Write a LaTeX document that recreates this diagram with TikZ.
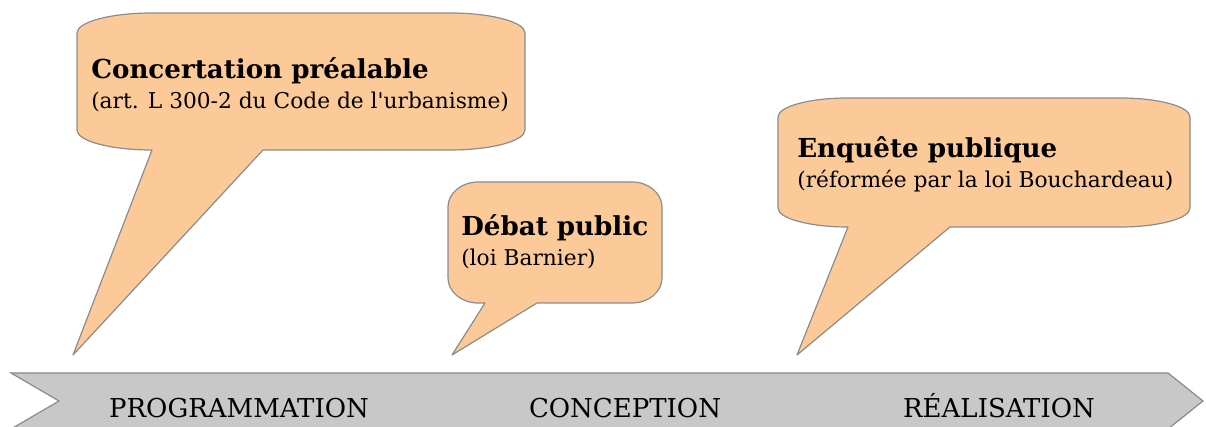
\documentclass[tikz,border=0pt]{standalone}
\usepackage{fontspec}
\setmainfont{DejaVu Serif}
\definecolor{peach}{RGB}{251,202,152}
\definecolor{bubbleline}{RGB}{140,140,140}
\definecolor{bandfill}{RGB}{200,200,200}
\definecolor{bandline}{RGB}{140,140,140}
\newcommand\callout[9]{%
  \draw[bubble] (#1,{#2+#6}) .. controls (#1,{#2+0.448*#6}) and ({#1+0.448*#5},#2) .. ({#1+#5},#2)
    -- ({#3-#5},#2) .. controls ({#3-0.448*#5},#2) and (#3,{#2+0.448*#6}) .. (#3,{#2+#6})
    -- (#3,{#4-#6}) .. controls (#3,{#4-0.448*#6}) and ({#3-0.448*#5},#4) .. ({#3-#5},#4)
    -- (#8,#4) -- #9 -- (#7,#4)
    -- ({#1+#5},#4) .. controls ({#1+0.448*#5},#4) and (#1,{#4-0.448*#6}) .. (#1,{#4-#6})
    -- cycle;}
\begin{document}
\begin{tikzpicture}[x=0.75pt,y=-0.75pt,
  bubble/.style={fill=peach,draw=bubbleline,line width=0.9pt,line join=round},
  band/.style={fill=bandfill,draw=bandline,line width=0.9pt,line join=miter},
  title/.style={font=\fontsize{19.6}{22}\selectfont\bfseries,anchor=base west,inner sep=0pt},
  sub/.style={font=\fontsize{16.3}{18}\selectfont,anchor=base west,inner sep=0pt},
  phase/.style={font=\fontsize{19.5}{22}\selectfont,anchor=base,inner sep=0pt}]
\useasboundingbox (0,0) rectangle (1206,427);
% band
\draw[band] (11,373) -- (1168,373) -- (1203,401) -- (1168,429) -- (11,429) -- (59,401) -- cycle;
\node[phase] (p1) at (239,417) {PROGRAMMATION};
\node[phase] (p2) at (625,417) {CONCEPTION};
\node[phase] (p3) at (999,417) {RÉALISATION};
% callouts
\coordinate (a1) at (73,355);
\coordinate (a2) at (452,355);
\coordinate (a3) at (797,355);
\callout{77}{13}{525}{150}{75}{20}{152}{263}{(a1)}
\callout{448}{182}{662}{303}{30}{25}{485}{537}{(a2)}
\callout{778}{98}{1190}{227}{70}{19}{848}{950}{(a3)}
\node[title] (t1) at (91,79) {Concertation préalable};
\node[sub] (s1) at (91,109) {(art. L 300-2 du Code de l\textquotesingle urbanisme)};
\node[title] (t2) at (461,236) {Débat public};
\node[sub] (s2) at (461,266) {(loi Barnier)};
\node[title] (t3) at (797,158) {Enquête publique};
\node[sub] (s3) at (797,188) {(réformée par la loi Bouchardeau)};
\end{tikzpicture}
\end{document}
